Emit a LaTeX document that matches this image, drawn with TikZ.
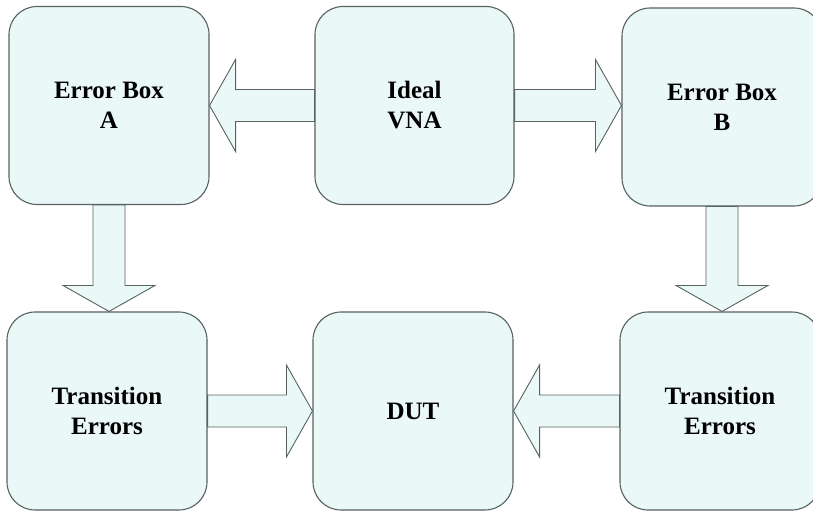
\documentclass[tikz,border=0pt]{standalone}
\usepackage{fontspec}
\newfontfamily\lblfont{Liberation Serif}
\usetikzlibrary{calc}
\definecolor{boxfill}{RGB}{234,248,248}
\definecolor{boxline}{RGB}{88,98,94}
\tikzset{
  blk/.style={draw=boxline, line width=1.1pt, fill=boxfill, rounded corners=28pt,
    minimum width=200pt, minimum height=198pt, inner sep=0pt, align=center,
    font=\lblfont\fontsize{25}{30}\selectfont\bfseries},
  barrow/.style={draw=boxline, line width=0.9pt, fill=boxfill, line join=miter}
}
\newcommand\blockarrow[2]{%
  \path (#1) coordinate (tl) (#2) coordinate (tp);
  \path ($(tp)!26pt!(tl)$) coordinate (hb);
  \draw[barrow] ($(tl)!16pt!90:(tp)$) -- ($(hb)!16pt!-90:(tl)$) -- ($(hb)!46pt!-90:(tl)$)
    -- (tp) -- ($(hb)!46pt!90:(tl)$) -- ($(hb)!16pt!90:(tl)$) -- ($(tl)!16pt!-90:(tp)$) -- cycle;
}
\begin{document}
\begin{tikzpicture}[x=1pt,y=1pt]
\useasboundingbox (0,0) rectangle (813,512);
\clip (0,0) rectangle (813,512);
\fill[white] (0,0) rectangle (813,512);
\node[blk] (a) at (109,406.5) {Error Box\\A};
\node[blk, minimum width=199pt] (vna) at (414.5,406.5) {Ideal\\VNA};
\node[blk] (b) at (722,405) {Error Box\\B};
\node[blk] (ta) at (107,101) {Transition\\Errors};
\node[blk] (dut) at (413,101) {DUT};
\node[blk] (tb) at (720,101) {Transition\\Errors};
\blockarrow{vna.west}{a.east}
\blockarrow{vna.east}{b.west |- vna.east}
\blockarrow{a.south}{a.south |- ta.north}
\blockarrow{b.south}{b.south |- tb.north}
\blockarrow{ta.east}{dut.west |- ta.east}
\blockarrow{tb.west}{dut.east |- tb.west}
\end{tikzpicture}
\end{document}
